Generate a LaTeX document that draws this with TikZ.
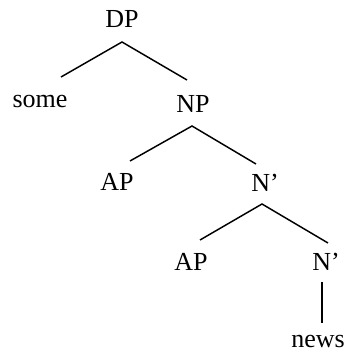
\documentclass[tikz,border=0pt]{standalone}
\usepackage{fontspec}
\setmainfont{Liberation Serif}
\usepackage{tikz}

\begin{document}
\begin{tikzpicture}[
  x=0.75pt, y=-0.75pt,
  cat/.style={anchor=base, inner sep=0pt, font=\fontsize{19.5}{23}\selectfont},
  branch/.style={line width=1.1pt, color=black}
]
\useasboundingbox (0,0) rectangle (346,353);

% labels
\node[cat] (DP)    at (122,28)  {DP};
\node[cat] (some)  at (40,108)  {some};
\node[cat] (NP)    at (193,113) {NP};
\node[cat] (AP)    at (117,190) {AP};
\node[cat] (Nbar)  at (265,191) {N’};
\node[cat] (AP2)   at (191,270) {AP};
\node[cat] (Nbar2) at (326,270) {N’};
\node[cat] (news)  at (318,347) {news};

% branch points
\coordinate (DP-b)    at (122,42);
\coordinate (some-t)  at (61,77);
\coordinate (NP-t)    at (187,80);
\coordinate (NP-b)    at (192,126);
\coordinate (AP-t)    at (130,161);
\coordinate (Nbar-t)  at (256,164);
\coordinate (Nbar-b)  at (262,204);
\coordinate (AP2-t)   at (200,240);
\coordinate (Nbar2-t) at (328,243);
\coordinate (Nbar2-b) at (322,282);
\coordinate (news-t)  at (322,323);

% branches
\draw[branch] (some-t) -- (DP-b) -- (NP-t);
\draw[branch] (AP-t) -- (NP-b) -- (Nbar-t);
\draw[branch] (AP2-t) -- (Nbar-b) -- (Nbar2-t);
\draw[branch] (Nbar2-b) -- (news-t);

\end{tikzpicture}
\end{document}
